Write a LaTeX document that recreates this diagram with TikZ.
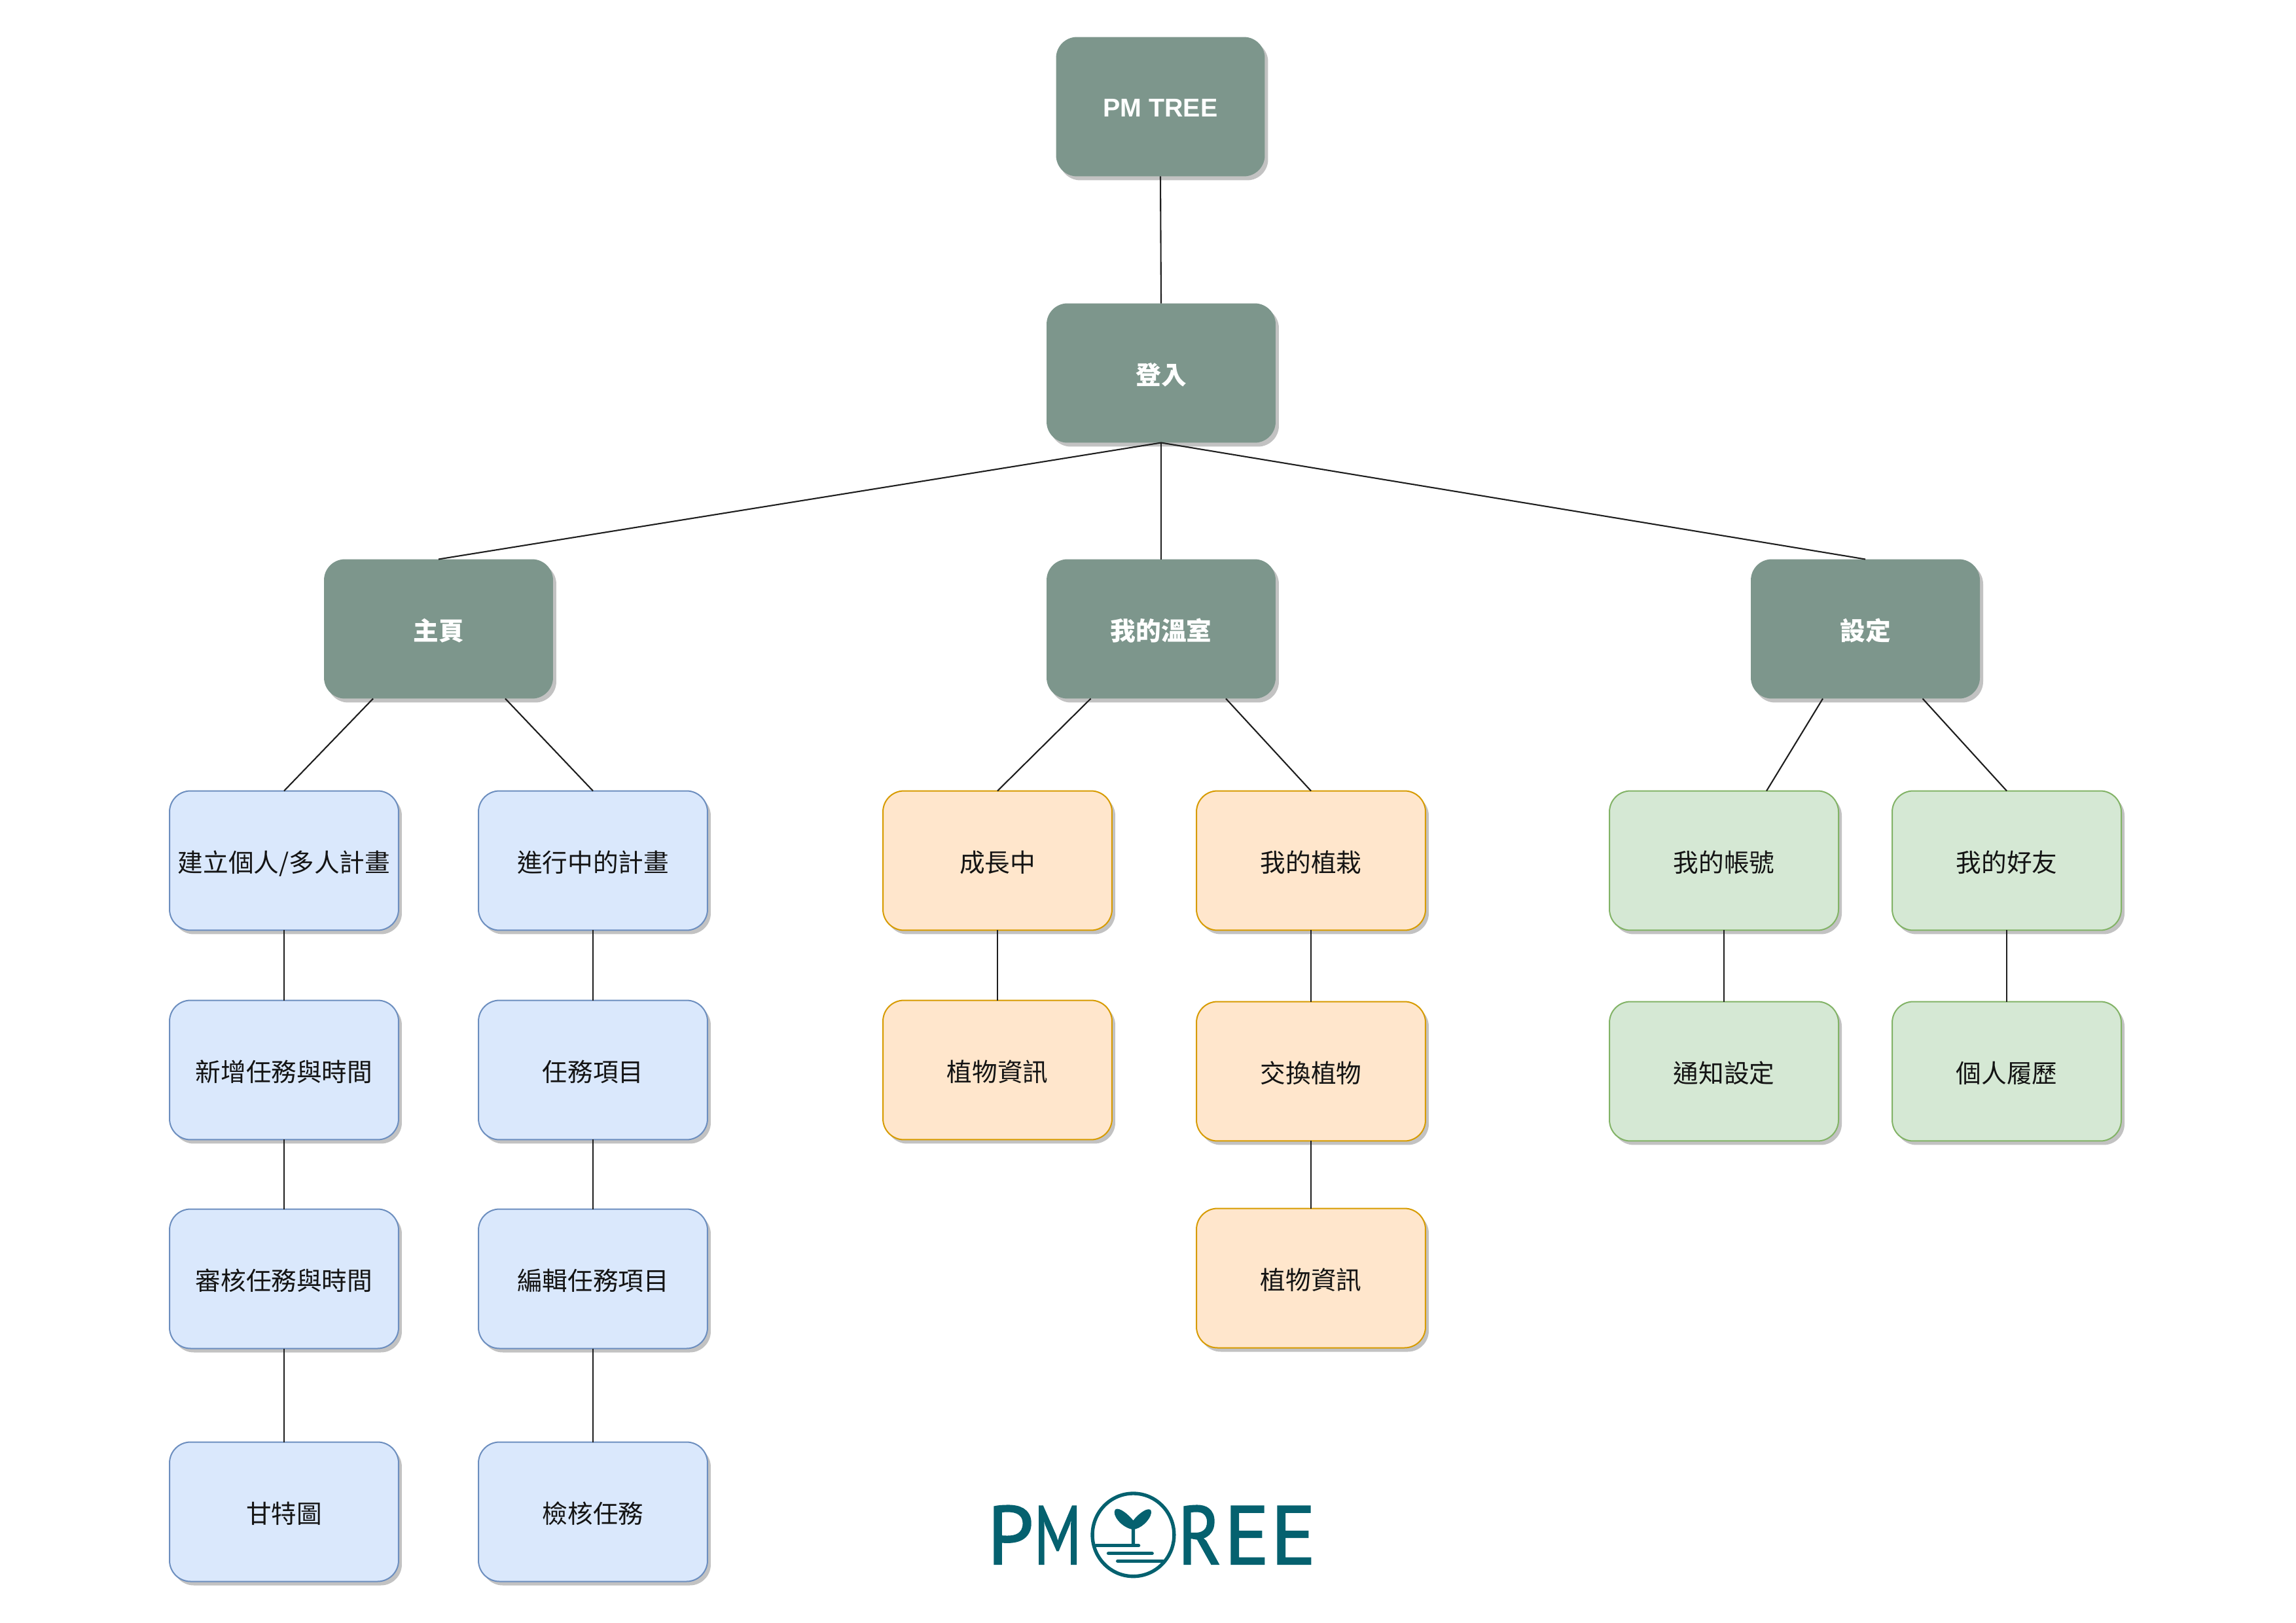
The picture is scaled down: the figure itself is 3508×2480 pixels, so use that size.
\documentclass[tikz,border=0pt]{standalone}
\usepackage{fontspec}
\setmainfont{Liberation Sans}
\newfontfamily\cjk{Noto Sans CJK TC}
\newfontfamily\logofont[FakeBold=1.6]{PT Sans}
\usetikzlibrary{shadows}
\definecolor{sage}{HTML}{7D968C}
\definecolor{shade}{HTML}{C2C2C2}
\definecolor{teal}{HTML}{05616F}
\definecolor{wire}{HTML}{1E1E1E}
\definecolor{blue1}{HTML}{DAE8FC}\definecolor{blue2}{HTML}{6C8EBF}
\definecolor{orange1}{HTML}{FFE6CC}\definecolor{orange2}{HTML}{D79B00}
\definecolor{green1}{HTML}{D5E8D4}\definecolor{green2}{HTML}{82B366}
\tikzset{
  card/.style={rounded corners=0.64cm,inner sep=0pt,outer sep=0pt,align=center,
    minimum width=7cm,minimum height=4.26cm,text height=20.4pt,text depth=0pt,
    drop shadow={shadow xshift=0.1cm,shadow yshift=-0.12cm,fill=shade,opacity=1},
    font=\cjk\fontsize{22pt}{26pt}\selectfont,text=black!92},
  darkcard/.style={card,fill=sage,text=white,font=\cjk\bfseries\fontsize{22pt}{26pt}\selectfont},
  rootcard/.style={darkcard,minimum width=6.38cm,text height=17.5pt,font=\bfseries\fontsize{22.4pt}{26pt}\selectfont},
  bluecard/.style={card,fill=blue1,draw=blue2,line width=0.04cm},
  orangecard/.style={card,fill=orange1,draw=orange2,line width=0.04cm},
  greencard/.style={card,fill=green1,draw=green2,line width=0.04cm},
  wirestyle/.style={draw=wire,line width=0.042cm},
  logoletter/.style={text=teal,anchor=base,inner sep=0pt,outer sep=0pt,
    font=\logofont\fontsize{72pt}{72pt}\selectfont},
  logomark/.style={draw=teal,line width=0.107cm},
  logobar/.style={teal,line width=0.11cm,line cap=round}
}
\begin{document}
\begin{tikzpicture}[x=0.02cm,y=-0.02cm]
\useasboundingbox (0,0) rectangle (3508,2480);
\fill[white] (0,0) rectangle (3508,2480);
% grey level
\node[rootcard] (root) at (1773,163) {PM TREE};
\node[darkcard] (login) at (1774,570) {登入};
\node[darkcard] (home) at (670,961) {主頁};
\node[darkcard] (green) at (1774,961) {我的溫室};
\node[darkcard] (settings) at (2850,961) {設定};
% blue columns
\node[bluecard] (b11) at (434,1315) {建立個人/多人計畫};
\node[bluecard] (b12) at (434,1635) {新增任務與時間};
\node[bluecard] (b13) at (434,1954) {審核任務與時間};
\node[bluecard] (b14) at (434,2310) {甘特圖};
\node[bluecard] (b21) at (906,1315) {進行中的計畫};
\node[bluecard] (b22) at (906,1635) {任務項目};
\node[bluecard] (b23) at (906,1954) {編輯任務項目};
\node[bluecard] (b24) at (906,2310) {檢核任務};
% orange columns
\node[orangecard] (o11) at (1524,1315) {成長中};
\node[orangecard] (o12) at (1524,1635) {植物資訊};
\node[orangecard] (o21) at (2003,1315) {我的植栽};
\node[orangecard] (o22) at (2003,1637) {交換植物};
\node[orangecard] (o23) at (2003,1953) {植物資訊};
% green columns
\node[greencard] (g11) at (2634,1315) {我的帳號};
\node[greencard] (g12) at (2634,1637) {通知設定};
\node[greencard] (g21) at (3066,1315) {我的好友};
\node[greencard] (g22) at (3066,1637) {個人履歷};
% connectors
\draw[wirestyle] (root.south) -- (login.north);
\draw[wirestyle] (login.south) -- (home.north);
\draw[wirestyle] (login.south) -- (green.north);
\draw[wirestyle] (login.south) -- (settings.north);
\draw[wirestyle] ([xshift=-2cm]home.south) -- (b11.north);
\draw[wirestyle] ([xshift=2.04cm]home.south) -- (b21.north);
\draw[wirestyle] ([xshift=-2.15cm]green.south) -- (o11.north);
\draw[wirestyle] ([xshift=1.98cm]green.south) -- (o21.north);
\draw[wirestyle] ([xshift=-1.3cm]settings.south) -- ([xshift=1.3cm]g11.north);
\draw[wirestyle] ([xshift=1.75cm]settings.south) -- (g21.north);
\foreach \a/\b in {b11/b12,b12/b13,b13/b14,b21/b22,b22/b23,b23/b24,o11/o12,o21/o22,o22/o23,g11/g12,g21/g22}
  \draw[wirestyle] (\a.south) -- (\b.north);
% logo
\node[logoletter] (lp) at (1544,2390) {\scalebox{1}[1]{P}};
\node[logoletter] (lm) at (1616,2390) {\scalebox{0.72}[1]{M}};
\node[logoletter] (lr) at (1833,2390) {\scalebox{0.88}[1]{R}};
\node[logoletter] (le1) at (1905,2390) {\scalebox{1.02}[1]{E}};
\node[logoletter] (le2) at (1976,2390) {\scalebox{1.02}[1]{E}};
\begin{scope}[shift={(1480,2240)},x=0.02cm/2.613,y=-0.02cm/3]
  \draw[logomark] (657,316) ellipse (163 and 190);
  \fill[teal] (650,290) .. controls (610,280) and (570,225) .. (585,200)
     .. controls (600,185) and (640,225) .. (657,250)
     .. controls (680,215) and (720,185) .. (728,205)
     .. controls (735,230) and (700,280) .. (664,290)
     -- (664,360) -- (650,360) -- cycle;
  \draw[logobar] (508,365) -- (678,365);
  \draw[logobar] (558,401) -- (732,401);
  \draw[logobar] (595,436) -- (775,436);
\end{scope}
\end{tikzpicture}
\end{document}
